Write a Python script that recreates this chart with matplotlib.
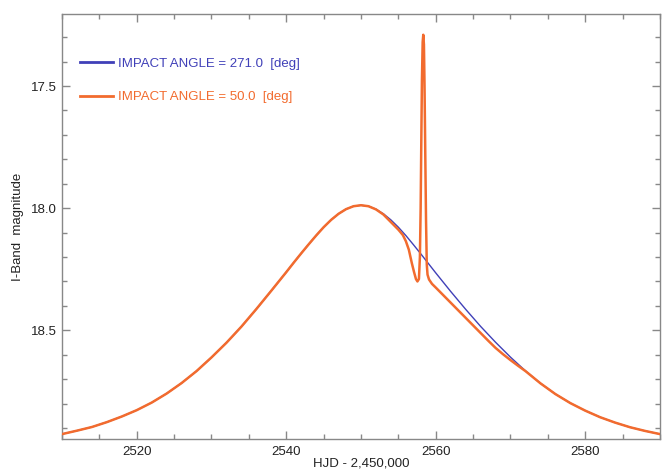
import matplotlib
matplotlib.use("Agg")
import matplotlib.pyplot as plt
from matplotlib.ticker import MultipleLocator

plt.rcParams['font.family'] = ['Liberation Sans', 'DejaVu Sans']

# light curve, impact angle 271 deg
t_blue = [2510, 2512, 2514, 2516, 2518, 2520, 2522, 2524, 2526, 2528, 2530,
          2532, 2534, 2536, 2538, 2540, 2541, 2542, 2543, 2544, 2545, 2546,
          2547, 2548, 2549, 2550, 2551, 2552, 2553, 2554, 2555, 2556, 2557,
          2558, 2559, 2560, 2562, 2564, 2566, 2568, 2570, 2572, 2574, 2576,
          2578, 2580, 2582, 2584, 2586, 2588, 2590]
m_blue = [18.925, 18.911, 18.896, 18.876, 18.853, 18.827, 18.796, 18.759,
          18.716, 18.667, 18.611, 18.551, 18.485, 18.413, 18.338, 18.262,
          18.223, 18.185, 18.148, 18.112, 18.078, 18.048, 18.023, 18.004,
          17.992, 17.988, 17.992, 18.004, 18.023, 18.048, 18.078, 18.112,
          18.149, 18.187, 18.226, 18.265, 18.341, 18.414, 18.484, 18.549,
          18.610, 18.666, 18.717, 18.761, 18.798, 18.829, 18.856, 18.878,
          18.897, 18.912, 18.925]

# light curve, impact angle 50 deg
t_orange = [2510, 2512, 2514, 2516, 2518, 2520, 2522, 2524, 2526, 2528, 2530,
            2532, 2534, 2536, 2538, 2540, 2541, 2542, 2543, 2544, 2545, 2546,
            2547, 2548, 2549, 2550, 2551, 2552, 2553, 2554, 2555, 2555.6,
            2556, 2556.4, 2556.8, 2557.1, 2557.35, 2557.55, 2557.75, 2557.88,
            2557.98, 2558.06, 2558.15, 2558.25, 2558.33, 2558.42, 2558.5,
            2558.6, 2558.7, 2558.8, 2558.9, 2559.1, 2559.5, 2560, 2561, 2562,
            2563, 2564, 2565, 2566, 2567, 2568, 2569, 2570, 2571, 2572, 2574,
            2576, 2578, 2580, 2582, 2584, 2586, 2588, 2590]
m_orange = [18.925, 18.911, 18.896, 18.876, 18.853, 18.827, 18.796, 18.759,
            18.716, 18.667, 18.611, 18.551, 18.485, 18.413, 18.338, 18.262,
            18.223, 18.185, 18.148, 18.112, 18.078, 18.048, 18.023, 18.004,
            17.992, 17.988, 17.992, 18.005, 18.026, 18.057, 18.088, 18.110,
            18.135, 18.170, 18.225, 18.262, 18.290, 18.300, 18.290, 18.200,
            18.000, 17.750, 17.480, 17.320, 17.290, 17.330, 17.500, 17.780,
            18.050, 18.230, 18.272, 18.292, 18.310, 18.325, 18.356, 18.387,
            18.418, 18.449, 18.480, 18.511, 18.542, 18.572, 18.598, 18.622,
            18.645, 18.667, 18.717, 18.761, 18.798, 18.829, 18.856, 18.878,
            18.897, 18.912, 18.925]

labels = ['IMPACT ANGLE = 271.0  [deg]', 'IMPACT ANGLE = 50.0  [deg]']
blue = '#4040b8'
orange = '#f26b2e'
frame = '#888888'

fig = plt.figure(figsize=(6.71, 4.70), dpi=100)
ax = fig.add_axes([0.0924, 0.066, 0.8912, 0.9042])

ax.plot(t_blue, m_blue, color=blue, lw=1.0, label=labels[0], zorder=2)
ax.plot(t_orange, m_orange, color=orange, lw=1.8, label=labels[1], zorder=3)

ax.set_xlim(2510, 2590)
ax.set_ylim(18.945, 17.205)

ax.xaxis.set_major_locator(MultipleLocator(20))
ax.xaxis.set_minor_locator(MultipleLocator(5))
ax.yaxis.set_major_locator(MultipleLocator(0.5))
ax.yaxis.set_minor_locator(MultipleLocator(0.1))
ax.yaxis.set_major_formatter(plt.FormatStrFormatter('%.1f'))

ax.tick_params(which='both', direction='in', top=True, right=True,
               color=frame, width=1.0, labelsize=9.5, labelcolor='#222222')
ax.tick_params(which='major', length=6)
ax.tick_params(which='minor', length=3.6)
ax.tick_params(axis='x', pad=5)
ax.tick_params(axis='y', pad=4)
for s in ax.spines.values():
    s.set_color(frame)
    s.set_linewidth(1.0)

ax.set_xlabel('HJD - 2,450,000', fontsize=9.5, color='#222222', labelpad=0)
ax.set_ylabel('I-Band  magnitude', fontsize=9.5, color='#222222', labelpad=5)

leg = ax.legend(loc='upper left', bbox_to_anchor=(0.03, 0.897), frameon=False,
                fontsize=9.5, labelcolor='linecolor', borderpad=0,
                borderaxespad=0, handlelength=2.5, handletextpad=0.35,
                labelspacing=1.6)
for h in leg.get_lines():
    h.set_linewidth(2.0)

fig.savefig('out.png', dpi=100)
